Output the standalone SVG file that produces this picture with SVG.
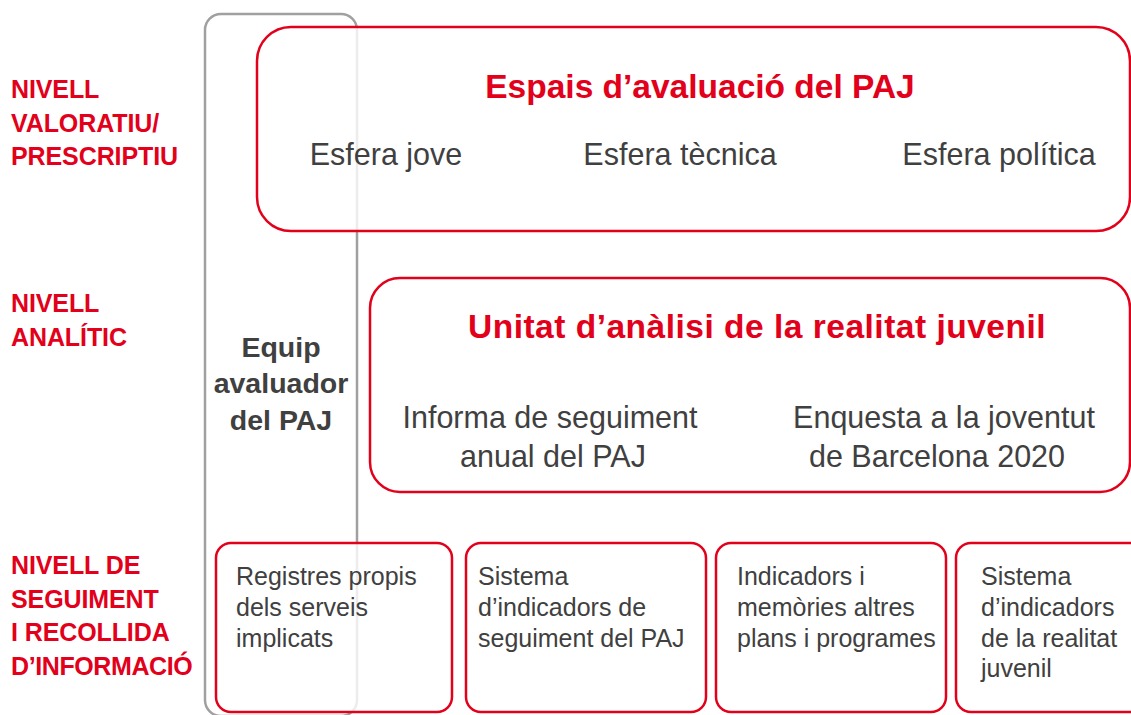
<svg xmlns="http://www.w3.org/2000/svg" width="1131" height="715" viewBox="0 0 1131 715">
<style>
.lvl{font-family:"Liberation Sans",Arial,sans-serif;font-weight:bold;font-size:25px;fill:#e2001a;letter-spacing:-0.1px}
.ttl{font-family:"Liberation Sans",Arial,sans-serif;font-weight:bold;font-size:33.5px;fill:#e2001a;text-anchor:middle}
.txt{font-family:"Liberation Sans",Arial,sans-serif;font-size:30.5px;fill:#404040;text-anchor:middle}
.sm{font-family:"Liberation Sans",Arial,sans-serif;font-size:25px;fill:#404040}
.eq{font-family:"Liberation Sans",Arial,sans-serif;font-weight:bold;font-size:28.5px;fill:#404040;text-anchor:middle}
.box{fill:#ffffff;fill-opacity:0.8;stroke:#e2001a;stroke-width:2.5}
.gbox{fill:none;stroke:#a0a0a0;stroke-width:2.5}
</style>
<rect width="1131" height="715" fill="#ffffff"/>
<g id="levels">
<text class="lvl" x="11" y="98">NIVELL</text>
<text class="lvl" x="11" y="131.5">VALORATIU/</text>
<text class="lvl" x="11" y="165">PRESCRIPTIU</text>
<text class="lvl" x="11" y="312">NIVELL</text>
<text class="lvl" x="11" y="345.5">ANALÍTIC</text>
<text class="lvl" x="11" y="574">NIVELL DE</text>
<text class="lvl" x="11" y="607.5">SEGUIMENT</text>
<text class="lvl" x="11" y="641">I RECOLLIDA</text>
<text class="lvl" x="11" y="675" style="letter-spacing:-0.4px">D’INFORMACIÓ</text>
</g>
<g id="equip">
<rect class="gbox" x="205" y="14" width="152" height="702" rx="16"/>
<text class="eq" x="281" y="357">Equip</text>
<text class="eq" x="281" y="393">avaluador</text>
<text class="eq" x="281" y="430">del PAJ</text>
</g>
<g id="espais">
<rect class="box" x="257" y="27" width="873" height="204" rx="34"/>
<text class="ttl" x="700" y="98">Espais d’avaluació del PAJ</text>
<text class="txt" x="386" y="165">Esfera jove</text>
<text class="txt" x="680" y="165">Esfera tècnica</text>
<text class="txt" x="999" y="165">Esfera política</text>
</g>
<g id="unitat">
<rect class="box" x="370" y="278" width="760" height="214" rx="30"/>
<text class="ttl" x="757" y="338" style="letter-spacing:0.5px">Unitat d’anàlisi de la realitat juvenil</text>
<text class="txt" x="550" y="428">Informa de seguiment</text>
<text class="txt" x="553" y="467">anual del PAJ</text>
<text class="txt" x="944" y="428">Enquesta a la joventut</text>
<text class="txt" x="937" y="467">de Barcelona 2020</text>
</g>
<g id="registres">
<rect class="box" x="216" y="543" width="236" height="169" rx="15"/>
<text class="sm" x="236" y="585">Registres propis</text>
<text class="sm" x="236" y="616">dels serveis</text>
<text class="sm" x="236" y="647">implicats</text>
</g>
<g id="sistema-paj">
<rect class="box" x="466" y="543" width="240" height="169" rx="15"/>
<text class="sm" x="478" y="585">Sistema</text>
<text class="sm" x="478" y="616">d’indicadors de</text>
<text class="sm" x="478" y="647">seguiment del PAJ</text>
</g>
<g id="indicadors">
<rect class="box" x="716" y="543" width="230" height="169" rx="15"/>
<text class="sm" x="737" y="585">Indicadors i</text>
<text class="sm" x="737" y="616">memòries altres</text>
<text class="sm" x="737" y="647">plans i programes</text>
</g>
<g id="sistema-realitat">
<rect class="box" x="956" y="543" width="190" height="169" rx="15"/>
<text class="sm" x="981" y="585">Sistema</text>
<text class="sm" x="981" y="616">d’indicadors</text>
<text class="sm" x="981" y="647">de la realitat</text>
<text class="sm" x="981" y="677">juvenil</text>
</g>
<g id="connectors"/>
</svg>
